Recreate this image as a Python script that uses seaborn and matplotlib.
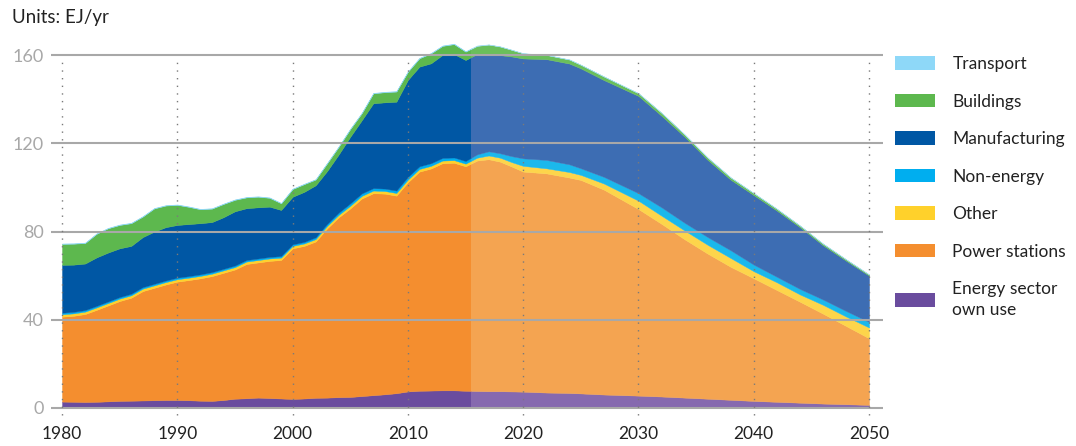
import matplotlib.pyplot as plt
import numpy as np
import seaborn as sns
from matplotlib.patches import Patch, Rectangle

sns.set_theme(style="white")
plt.rcParams["font.family"] = ["Lato", "DejaVu Sans"]

# years: history 1980-2016 every year, then projection points
years = list(range(1980, 2017)) + [2017, 2018, 2019, 2020, 2022, 2024, 2025, 2027, 2030,
                                   2032, 2034, 2036, 2038, 2040, 2042, 2044, 2046, 2048, 2050]

# upper edge of each stacked layer (EJ/yr)
energy_top = [2.9, 2.8, 2.7, 2.8, 3.0, 3.2, 3.3, 3.4, 3.5, 3.6, 3.6, 3.5, 3.3, 3.2, 3.6, 4.2, 4.4, 4.7, 4.5,
              4.3, 4.1, 4.3, 4.6, 4.7, 4.9, 5.0, 5.4, 5.8, 6.2, 6.7, 7.5, 7.8, 7.9, 8.0, 8.0, 7.8, 7.7,
              7.6, 7.6, 7.5, 7.4, 7.0, 6.8, 6.6, 6.1, 5.6, 5.2, 4.7, 4.2, 3.7, 3.2, 2.8, 2.4, 2.0, 1.7, 1.4]
power_top = [41.4, 41.8, 42.6, 44.5, 46.5, 48.5, 50.0, 53.0, 54.5, 56.0, 57.3, 58.0, 58.8, 59.8, 61.3, 62.8,
             65.3, 66.0, 66.7, 67.1, 72.4, 73.5, 75.5, 81.5, 86.5, 90.5, 95.0, 97.4, 97.2, 96.3, 102.4,
             107.2, 108.6, 111.0, 111.2, 109.6, 112.2,
             112.8, 111.7, 109.5, 107.2, 106.4, 104.5, 103.4, 99.0, 90.2, 83.5, 76.5, 70.0, 64.0, 58.8,
             53.5, 48.2, 42.8, 37.2, 31.6]
other_top = [42.5, 42.9, 43.7, 45.6, 47.6, 49.6, 51.1, 54.1, 55.6, 57.1, 58.4, 59.1, 59.9, 60.9, 62.4, 63.9,
             66.4, 67.1, 67.8, 68.2, 73.5, 74.6, 76.6, 82.6, 87.6, 91.7, 96.2, 98.6, 98.4, 97.5, 103.6,
             108.4, 109.8, 112.2, 112.4, 110.8, 113.5,
             114.5, 113.5, 111.5, 109.8, 108.7, 107.0, 105.7, 101.8, 94.0, 87.2, 80.5, 74.0, 68.0, 62.0,
             57.0, 51.5, 46.8, 41.5, 36.5]
nonenergy_top = [43.2, 43.6, 44.4, 46.3, 48.3, 50.3, 51.8, 54.8, 56.3, 57.8, 59.1, 59.8, 60.6, 61.6, 63.1,
                 64.6, 67.1, 67.8, 68.5, 68.9, 74.2, 75.3, 77.4, 83.5, 88.6, 92.8, 97.3, 99.7, 99.5, 98.6,
                 104.8, 109.6, 111.0, 113.4, 113.6, 112.0, 115.0,
                 116.4, 115.5, 114.2, 113.2, 112.5, 110.5, 108.7, 104.8, 97.4, 91.0, 84.0, 77.5, 71.5,
                 65.0, 59.5, 54.0, 49.2, 44.0, 39.0]
manuf_top = [64.9, 65.0, 65.5, 68.3, 70.5, 72.4, 73.5, 77.5, 80.0, 82.0, 83.0, 83.4, 83.8, 84.3, 86.5, 89.2,
             90.6, 91.0, 91.3, 89.8, 95.8, 98.0, 101.0, 107.5, 115.0, 123.0, 130.5, 138.2, 138.6, 138.9,
             148.8, 154.8, 156.3, 160.1, 160.5, 157.8, 160.5,
             160.5, 160.0, 159.4, 158.5, 158.2, 156.2, 154.0, 148.7, 141.5, 132.5, 123.0, 112.5, 103.5,
             96.5, 89.5, 82.0, 73.8, 66.8, 60.0]
buildings_top = [74.4, 74.5, 74.8, 79.0, 81.5, 83.0, 83.8, 86.8, 90.5, 91.8, 92.1, 91.2, 90.1, 90.4, 92.5,
                 94.4, 95.5, 95.8, 95.3, 92.8, 99.3, 101.5, 103.6, 111.0, 118.5, 126.5, 133.7, 142.7, 143.2,
                 143.5, 152.5, 158.6, 160.8, 164.2, 165.0, 161.6, 164.2,
                 164.8, 163.9, 162.4, 160.8, 160.1, 158.0, 155.6, 150.3, 142.7, 133.8, 124.0, 113.5, 104.5,
                 97.4, 90.3, 82.7, 74.5, 67.4, 60.5]
transport_top = [74.6, 74.7, 75.0, 79.2, 81.7, 83.2, 84.0, 87.0, 90.7, 92.0, 92.3, 91.4, 90.3, 90.6, 92.7,
                 94.6, 95.7, 96.0, 95.5, 93.0, 99.5, 101.7, 103.8, 111.2, 118.7, 126.7, 133.9, 142.9, 143.4,
                 143.7, 152.7, 158.8, 161.0, 164.4, 165.2, 161.8, 164.4,
                 164.9, 164.0, 162.5, 160.9, 160.2, 158.1, 155.7, 150.4, 142.8, 133.9, 124.1, 113.6, 104.6,
                 97.5, 90.4, 82.8, 74.6, 67.5, 60.6]

labels = ["Energy sector\nown use", "Power stations", "Other", "Non-energy",
          "Manufacturing", "Buildings", "Transport"]
dark = ["#6a4c9e", "#f48e2f", "#ffd12b", "#00aeef", "#0057a4", "#5db84e", "#8ed8f8"]
light = ["#8669af", "#f4a451", "#fdd54b", "#1bb8ec", "#3d6db3", "#6abf5b", "#a5dff8"]

fig = plt.figure(figsize=(10.76, 4.46), dpi=100)
ax = fig.add_axes([50.5 / 1076, (446 - 416.8) / 446, 832.4 / 1076, 388.1 / 446])

edges = [np.zeros(len(years)), energy_top, power_top, other_top, nonenergy_top,
         manuf_top, buildings_top, transport_top]

# history in full colour, outlook in lighter tints
for colors, (x0, x1) in [(dark, (1975, 2015.5)), (light, (2015.5, 2055))]:
    clip = Rectangle((x0, -10), x1 - x0, 200, transform=ax.transData)
    for lo, hi, c in zip(edges[:-1], edges[1:], colors):
        poly = ax.fill_between(years, lo, hi, facecolor=c, edgecolor=c, lw=0.3, zorder=1)
        poly.set_clip_path(clip)

ax.set_xlim(1979, 2051.2)
ax.set_ylim(-4, 172)
ax.set_yticks([0, 40, 80, 120, 160])
ax.set_xticks(range(1980, 2051, 10))
ax.yaxis.grid(True, color="#a8a8a8", lw=1.5)
ax.set_axisbelow(False)
ax.vlines(range(1980, 2051, 10), -3, 159, colors="#7a7a7a", linestyles=(0, (1, 4.5)), lw=1, zorder=3)
ax.tick_params(axis="both", length=0)
ax.tick_params(axis="y", labelsize=13, labelcolor="#a8a8a8", pad=5)
ax.tick_params(axis="x", labelsize=12.5, labelcolor="#222222", pad=6.5)
sns.despine(ax=ax, left=True, bottom=True)

fig.text(12 / 1076, 1 - 17 / 446, "Units: EJ/yr", fontsize=13.5, color="#222222", va="center")

handles = [Patch(facecolor=c, edgecolor="none") for c in dark[::-1]]
leg = fig.legend(handles, labels[::-1], loc="upper left", bbox_to_anchor=(895 / 1076, 1 - 56 / 446),
                 frameon=False, fontsize=12.5, handlelength=2.3, handleheight=0.8, handletextpad=1.0,
                 labelspacing=1.24, borderaxespad=0, borderpad=0, labelcolor="#222222")
for t in leg.get_texts():
    t.set_linespacing(1.35)

plt.savefig("out.png", dpi=100)
